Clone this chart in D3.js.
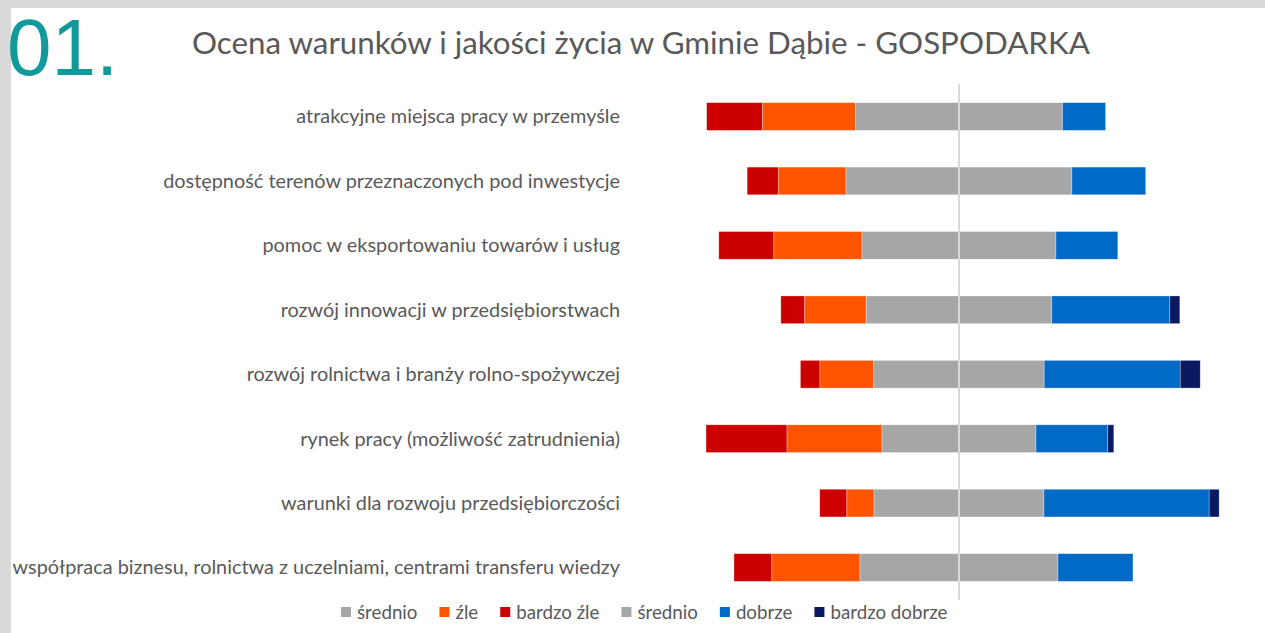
<!DOCTYPE html>
<html>
<head>
<meta charset="utf-8">
<script src="https://cdn.jsdelivr.net/npm/d3@7"></script>
<style>
  body { margin: 0; background: #fff; }
  svg { display: block; }
</style>
</head>
<body>
<div id="chart"></div>
<script>
// dane (% odpowiedzi)
const categories = [
  "atrakcyjne miejsca pracy w przemyśle",
  "dostępność terenów przeznaczonych pod inwestycje",
  "pomoc w eksportowaniu towarów i usług",
  "rozwój innowacji w przedsiębiorstwach",
  "rozwój rolnictwa i branży rolno-spożywczej",
  "rynek pracy (możliwość zatrudnienia)",
  "warunki dla rozwoju przedsiębiorczości",
  "współpraca biznesu, rolnictwa z uczelniami, centrami transferu wiedzy"
];
const bardzoZle    = [14.0, 7.8, 13.8, 6.0, 4.9, 20.3, 6.8, 9.5];
const zle          = [23.3, 17.0, 22.1, 15.4, 13.5, 23.8, 6.8, 22.1];
const srednio      = [51.9, 56.6, 48.6, 46.5, 42.7, 38.6, 42.6, 49.6];
const dobrze       = [10.8, 18.5, 15.5, 29.6, 34.1, 18.0, 41.4, 18.8];
const bardzoDobrze = [0, 0, 0, 2.5, 5.0, 1.5, 2.5, 0];
const legendLabels = ["średnio", "źle", "bardzo źle", "średnio", "dobrze", "bardzo dobrze"];

const title = "Ocena warunków i jakości życia w Gminie Dąbie - GOSPODARKA";

const width = 1265;
const height = 633;
const textColor = "#595959";
const font = "Lato, 'Open Sans', sans-serif";

const colors = {
  srednio: "#a6a6a6",
  zle: "#ff5500",
  bardzoZle: "#cc0000",
  dobrze: "#006ac6",
  bardzoDobrze: "#0b1862"
};
const legendColors = [colors.srednio, colors.zle, colors.bardzoZle, colors.srednio, colors.dobrze, colors.bardzoDobrze];

const svg = d3.select("#chart")
  .append("svg")
  .attr("width", width)
  .attr("height", height);

// szare tło i biały panel
svg.append("rect")
  .attr("width", width)
  .attr("height", height)
  .attr("fill", "#d9d9d9");
svg.append("rect")
  .attr("x", 11)
  .attr("y", 8)
  .attr("width", width - 11)
  .attr("height", height - 8)
  .attr("fill", "#fff");

// dopasowanie rozmiaru czcionki do szerokości
function fitFont(textSel, target) {
  const w = textSel.node().getComputedTextLength();
  const size = parseFloat(textSel.attr("font-size"));
  return size * target / w;
}

svg.append("text")
  .attr("x", 7)
  .attr("y", 75)
  .attr("font-family", "'Liberation Sans', Arial, sans-serif")
  .attr("font-size", 80)
  .attr("fill", "#12999b")
  .text("01.");

const titleText = svg.append("text")
  .attr("x", 192)
  .attr("y", 54)
  .attr("font-family", font)
  .attr("font-size", 28)
  .attr("fill", textColor)
  .text(title);
titleText.attr("font-size", fitFont(titleText, 898));

// skale
const x = d3.scaleLinear()
  .domain([-70, 70])
  .range([959 - 70 * 3.99, 959 + 70 * 3.99]);

const y = d3.scaleBand()
  .domain(categories)
  .range([84.3, 84.3 + 8 * 64.43])
  .paddingInner(0.57)
  .paddingOuter(0.285);

// segmenty słupków: średnio dzielone na pół wokół zera
const rows = categories.map((c, i) => {
  const half = srednio[i] / 2;
  return [
    { cat: c, x0: -half - zle[i] - bardzoZle[i], x1: -half - zle[i], color: colors.bardzoZle },
    { cat: c, x0: -half - zle[i], x1: -half, color: colors.zle },
    { cat: c, x0: -half, x1: 0, color: colors.srednio },
    { cat: c, x0: 0, x1: half, color: colors.srednio },
    { cat: c, x0: half, x1: half + dobrze[i], color: colors.dobrze },
    { cat: c, x0: half + dobrze[i], x1: half + dobrze[i] + bardzoDobrze[i], color: colors.bardzoDobrze }
  ].filter(d => d.x1 - d.x0 > 0);
});

svg.append("g")
  .selectAll("rect")
  .data(rows.flat())
  .enter()
  .append("rect")
  .attr("x", d => x(d.x0))
  .attr("y", d => y(d.cat))
  .attr("width", d => x(d.x1) - x(d.x0))
  .attr("height", y.bandwidth())
  .attr("fill", d => d.color)
  .attr("stroke", "#fff")
  .attr("stroke-opacity", 0.5)
  .attr("stroke-width", 0.6);

// linia zera
svg.append("line")
  .attr("x1", x(0))
  .attr("x2", x(0))
  .attr("y1", y.range()[0])
  .attr("y2", y.range()[1])
  .attr("stroke", "#d9d9d9")
  .attr("stroke-width", 2);

// etykiety kategorii
const labels = svg.append("g")
  .selectAll("text")
  .data(categories)
  .enter()
  .append("text")
  .attr("x", 620)
  .attr("y", d => y(d) + y.bandwidth() / 2)
  .attr("dy", "0.35em")
  .attr("text-anchor", "end")
  .attr("font-family", font)
  .attr("font-size", 17)
  .attr("fill", textColor)
  .text(d => d);

const longest = labels.filter((d, i) => i === categories.length - 1);
const labelSize = fitFont(longest, 608);
labels.attr("font-size", labelSize);

// legenda
const legend = svg.append("g");
const probe = legend.append("text")
  .attr("font-family", font)
  .attr("font-size", 16)
  .text("bardzo dobrze");
const legendSize = fitFont(probe, 117);
probe.remove();

let lx = 341;
legendLabels.forEach((label, i) => {
  legend.append("rect")
    .attr("x", lx)
    .attr("y", 607)
    .attr("width", 10)
    .attr("height", 10)
    .attr("fill", legendColors[i]);
  const t = legend.append("text")
    .attr("x", lx + 16)
    .attr("y", 612)
    .attr("dy", "0.35em")
    .attr("font-family", font)
    .attr("font-size", legendSize)
    .attr("fill", textColor)
    .text(label);
  lx += 16 + t.node().getComputedTextLength() + 22;
});
</script>
</body>
</html>
